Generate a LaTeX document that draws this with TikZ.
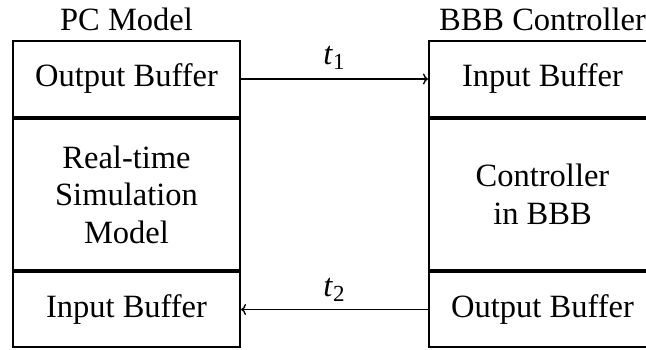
\documentclass[tikz,border=0pt]{standalone}
\usepackage{fontspec}
\setmainfont{Liberation Serif}
\usetikzlibrary{arrows.meta}
\begin{document}
\begin{tikzpicture}[x=1pt,y=-1pt,
  every node/.style={font=\fontsize{32.5}{37.5}\selectfont},
  block/.style={draw, line width=2pt, minimum width=227pt, inner sep=0pt, align=center},
  title/.style={inner sep=0pt},
  link/.style={line width=1.4pt, -{To[length=5pt,width=11pt]}},
  tlabel/.style={inner sep=0pt}]
\useasboundingbox (0,0) rectangle (646,350);
\clip (0,0) rectangle (646,350);
% PC model column
\node[block, minimum height=76pt]  (pcout) at (126.5,79)    {Output Buffer};
\node[block, minimum height=151pt] (pcsim) at (126.5,194.5) {Real-time\\Simulation\\Model};
\node[block, minimum height=75pt]  (pcin)  at (126.5,309.5) {Input Buffer};
\node[title] (pctitle) at (126.5,19) {PC Model};
% BBB controller column
\node[block, minimum height=76pt]  (bbin)  at (542.5,79)    {Input Buffer};
\node[block, minimum height=151pt] (bbctl) at (542.5,194.5) {Controller\\in BBB};
\node[block, minimum height=75pt]  (bbout) at (542.5,309.5) {Output Buffer};
\node[title] (bbtitle) at (542.5,19) {BBB Controller};
% data links
\draw[link] (pcout.east) -- (bbin.west);
\draw[link] (bbout.west) -- (pcin.east);
\node[tlabel] (t1) at (334,58) {\textit{t}\raisebox{-0.35ex}{\fontsize{23}{23}\selectfont 1}};
\node[tlabel] (t2) at (334,290) {\textit{t}\raisebox{-0.35ex}{\fontsize{23}{23}\selectfont 2}};
\end{tikzpicture}
\end{document}
